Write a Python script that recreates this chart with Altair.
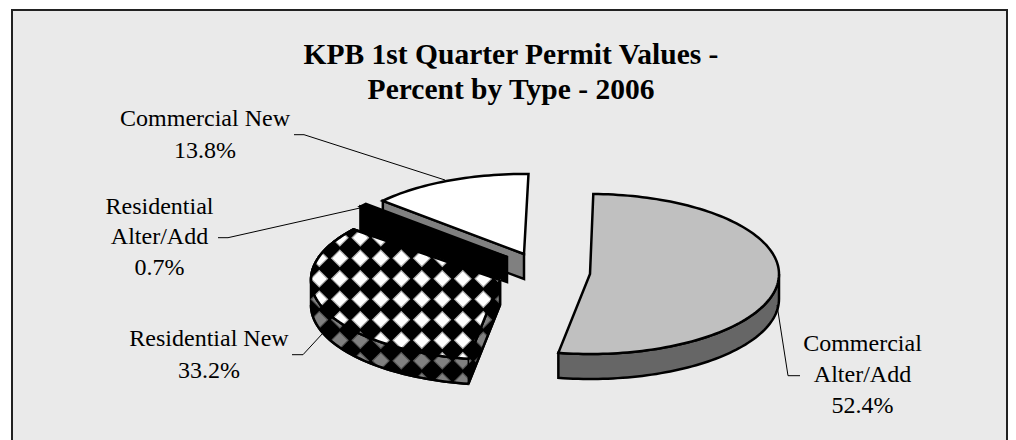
import math
import altair as alt

TITLE_LINES = ["KPB 1st Quarter Permit Values -", "Percent by Type - 2006"]
CATEGORIES = ["Commercial Alter/Add", "Residential New", "Residential Alter/Add", "Commercial New"]
PERCENTS = [52.4, 33.2, 0.7, 13.8]

# layout (page pixels)
OX, OY = 8, 8
A, B, DEPTH = 189, 80, 25
START = 1.0
OUTLINE = 2.5
APEX = {"Commercial Alter/Add": (590, 274), "Residential New": (500, 280),
        "Residential Alter/Add": (507, 257), "Commercial New": (524, 254)}
LABEL_LINES = {
    "Commercial Alter/Add": (862.5, [(["Commercial"], 344), (["Alter/Add"], 375)], 406),
    "Residential New": (209, [(["Residential New"], 339)], 370.5),
    "Residential Alter/Add": (159.5, [(["Residential"], 207), (["Alter/Add"], 237)], 268),
    "Commercial New": (205, [(["Commercial New"], 119)], 151),
}
LEADERS = [
    [(294, 134.7), (304, 134.7), (445, 180)],
    [(218, 237.7), (228, 237.7), (360, 208)],
    [(292, 354.7), (303, 354.7), (323, 333)],
    [(777, 305), (788, 375.7), (800, 375.7)],
]

# slice angles from the values
spans = {}
t = START
for c, p in zip(CATEGORIES, PERCENTS):
    spans[c] = (t, t + p * 3.6)
    t += p * 3.6


def pt(c, deg, dy=0):
    ax, ay = APEX[c]
    r = math.radians(deg)
    return (ax + A * math.sin(r), ay - B * math.cos(r) + dy)


def arc(c, d0, d1, dy=0):
    n = max(2, int(abs(d1 - d0) / 1.5) + 1)
    return [pt(c, d0 + (d1 - d0) * i / (n - 1), dy) for i in range(n)]


def sector(c):
    return [APEX[c]] + arc(c, *spans[c])


def hull(points):
    P = sorted(set(points))
    def half(seq):
        h = []
        for q in seq:
            while len(h) > 1 and (h[-1][0]-h[-2][0])*(q[1]-h[-2][1]) - (h[-1][1]-h[-2][1])*(q[0]-h[-2][0]) <= 0:
                h.pop()
            h.append(q)
        return h[:-1]
    return half(P) + half(P[::-1])


def clip(poly, win):
    def side(a, b, q):
        return (b[0]-a[0])*(q[1]-a[1]) - (b[1]-a[1])*(q[0]-a[0])
    out = poly
    for i in range(len(win)):
        a, b = win[i], win[(i+1) % len(win)]
        src, out = out, []
        for j in range(len(src)):
            p, q = src[j], src[(j+1) % len(src)]
            sp, sq = side(a, b, p), side(a, b, q)
            if sp >= 0:
                out.append(p)
            if (sp >= 0) != (sq >= 0):
                k = sp / (sp - sq)
                out.append((p[0]+(q[0]-p[0])*k, p[1]+(q[1]-p[1])*k))
        if not out:
            return []
    return out


features = []


def shape(points, fill, stroke="#000000", sw=OUTLINE):
    pts = [[x - OX, y - OY] for x, y in points]
    features.append({"type": "Feature", "properties": {"fill": fill, "stroke": stroke, "sw": sw},
                     "geometry": {"type": "Polygon", "coordinates": [pts + [pts[0]]]}})


def line(points, sw=1.0):
    pts = [[x - OX, y - OY] for x, y in points]
    features.append({"type": "Feature", "properties": {"fill": "none", "stroke": "#000000", "sw": sw},
                     "geometry": {"type": "LineString", "coordinates": pts}})


def diamonds(win, colour, edge):
    for i in range(-1, 12):
        for j in range(-2, 8):
            x, y = 319.3 + 20.5 * i, 258.3 + 20.5 * j
            h = 8.2
            d = clip([(x, y-h), (x+h, y), (x, y+h), (x-h, y)], win)
            if len(d) > 2:
                shape(d, colour, edge, 1.2)


# frame
shape([(12, 10), (1007, 10), (1007, 470), (12, 470)], "#EAEAEA", "#222222", 2.0)

# Commercial New
c = "Commercial New"
a0, a1 = spans[c]
o = pt(c, a0)
ap = APEX[c]
shape([o, ap, (ap[0], ap[1]+DEPTH), (o[0], o[1]+DEPTH)], "#808080")
shape(sector(c), "#FFFFFF")

# Residential Alter/Add
c = "Residential Alter/Add"
a0, a1 = spans[c]
o = pt(c, a0)
ap = APEX[c]
shape([o, ap, (ap[0], ap[1]+DEPTH), (o[0], o[1]+DEPTH)], "#000000")
shape(sector(c), "#000000")

# Residential New
c = "Residential New"
a0, a1 = spans[c]
ap = APEX[c]
top = sector(c)
sil = hull(top + [(x, y + DEPTH) for x, y in top])
shape(sil, "#000000")
diamonds(sil, "#808080", "#555555")
shape(top, "#000000")
diamonds(hull(top), "#FFFFFF", "#AAAAAA")
o = pt(c, a0)
line([ap, (ap[0], ap[1]+DEPTH), (o[0], o[1]+DEPTH)], OUTLINE)
line([o, (o[0], o[1]+DEPTH)], 1.5)
line(top + [top[0]], OUTLINE)
line(arc(c, a0, 270, DEPTH), OUTLINE)

# Commercial Alter/Add
c = "Commercial Alter/Add"
a0, a1 = spans[c]
front = arc(c, 90, a1)
shape(front + [(x, y + DEPTH) for x, y in front[::-1]], "#666666")
shape(sector(c), "#C0C0C0")

for l in LEADERS:
    line(l)

shapes = (
    alt.Chart(alt.InlineData(values=features))
    .mark_geoshape()
    .encode(
        fill=alt.Fill("properties.fill:N", scale=None),
        stroke=alt.Stroke("properties.stroke:N", scale=None),
        strokeWidth=alt.StrokeWidth("properties.sw:Q", scale=None),
    )
    .project(type="identity", scale=1, translate=[0, 0])
)

title_rows = [{"t": s, "x": 511 - OX, "y": y - OY} for s, y in zip(TITLE_LINES, [55, 90])]
label_rows = []
for c, p in zip(CATEGORIES, PERCENTS):
    x, rows, py = LABEL_LINES[c]
    for words, y in rows:
        label_rows.append({"t": words[0], "x": x - OX, "y": y - OY})
    label_rows.append({"t": f"{p:.1f}%", "x": x - OX, "y": py - OY})

X = alt.X("x:Q", scale=None)
Y = alt.Y("y:Q", scale=None)
titles = alt.Chart(alt.Data(values=title_rows)).mark_text(
    font="Liberation Serif", fontSize=29.5, fontWeight="bold", color="#000000", baseline="middle", align="center"
).encode(x=X, y=Y, text="t:N")
labels = alt.Chart(alt.Data(values=label_rows)).mark_text(
    font="Liberation Serif", fontSize=24, color="#000000", baseline="middle", align="center"
).encode(x=X, y=Y, text="t:N")

chart = alt.layer(shapes, titles, labels).properties(
    width=1000, height=432, padding=0, autosize=alt.AutoSizeParams(type="none"),
    background="#FFFFFF",
).configure_view(stroke=None)

chart.save("out.html", embed_options={"renderer": "svg", "actions": False})
